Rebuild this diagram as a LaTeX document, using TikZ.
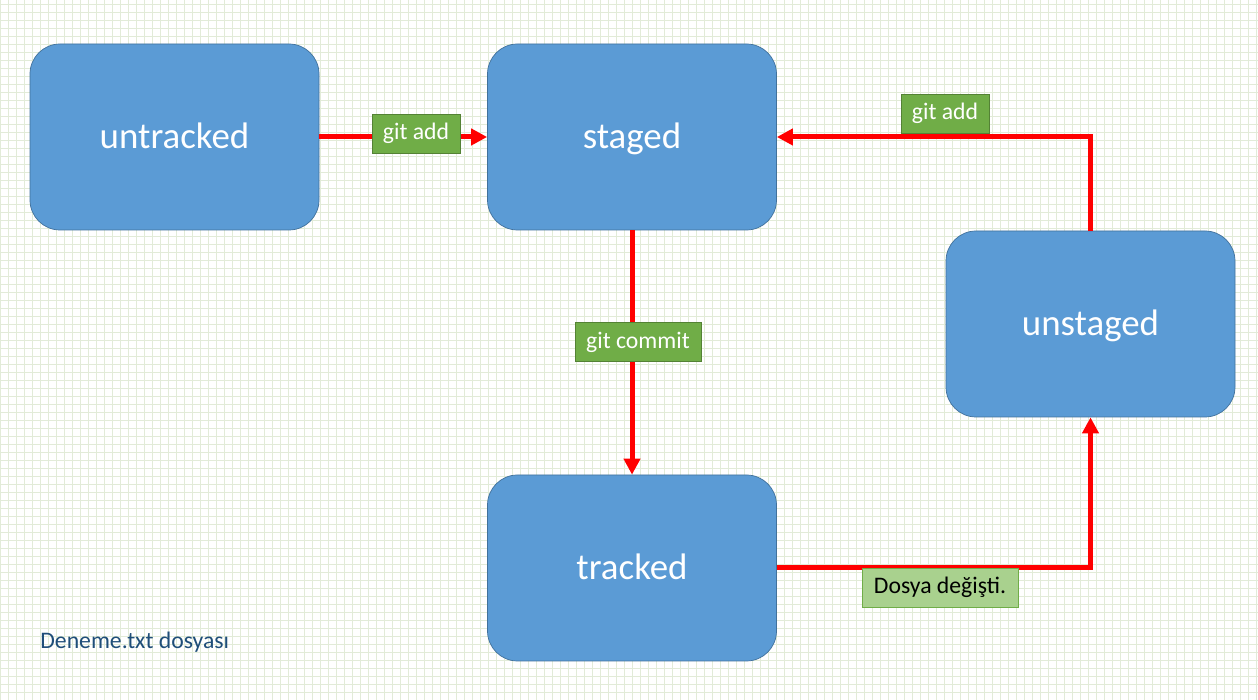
\documentclass[tikz,border=0pt]{standalone}
\usepackage{fontspec}
\setmainfont{Carlito}
\usetikzlibrary{arrows.meta}
\definecolor{boxblue}{HTML}{5B9BD5}
\definecolor{boxedge}{HTML}{41719C}
\definecolor{cmdgreen}{HTML}{70AD47}
\definecolor{cmdedge}{HTML}{548235}
\definecolor{notegreen}{HTML}{A9D18E}
\definecolor{gridcol}{HTML}{E2EBD8}
\definecolor{captionblue}{HTML}{1F4E79}
\tikzset{
  state/.style={draw=boxedge, fill=boxblue, rounded corners=0.6cm, minimum width=5.78cm, minimum height=3.72cm, text=white, text depth=0.05cm, font=\fontsize{21}{25}\selectfont},
  cmd/.style={draw=cmdedge, fill=cmdgreen, inner sep=0pt, minimum height=0.78cm, text=white, font=\fontsize{13.5}{16}\selectfont},
  note/.style={draw=cmdgreen, fill=notegreen, inner sep=0pt, minimum height=0.78cm, font=\fontsize{13.5}{16}\selectfont},
  flow/.style={red, line width=2.85pt, -{Triangle[length=0.32cm, width=0.32cm]}}
}
\begin{document}
\begin{tikzpicture}
	\useasboundingbox (0,0) rectangle (25.16,14);
	\fill[white] (0,0) rectangle (25.16,14);
	\draw[gridcol, line width=0.5pt, step=0.16] (0,0) grid (25.16,14);
	\node[state] (untracked) at(3.49,11.26) {untracked};
	\node[state] (staged) at(12.64,11.26) {staged};
	\node[state] (unstaged) at(21.81,7.52) {unstaged};
	\node[state] (tracked) at(12.64,2.64) {tracked};
	\draw[flow] (untracked) -- (staged);
	\draw[flow] (staged) -- (tracked);
	\draw[flow] (tracked.east) -| (unstaged.south);
	\draw[flow] (unstaged.north) |- (staged.east);
	\node[cmd, minimum width=1.76cm] (addone) at(8.32,11.33) {git add};
	\node[cmd, minimum width=1.76cm] (addtwo) at(18.9,11.73) {git add};
	\node[cmd, minimum width=2.52cm] (commit) at(12.76,7.16) {git commit};
	\node[note, minimum width=3.12cm] (changed) at(18.8,2.25) {Dosya değişti.};
	\node[right, text=captionblue, font=\fontsize{13.5}{16}\selectfont, inner sep=0pt] (caption) at(0.8,1.16) {Deneme.txt dosyası};
\end{tikzpicture}
\end{document}
